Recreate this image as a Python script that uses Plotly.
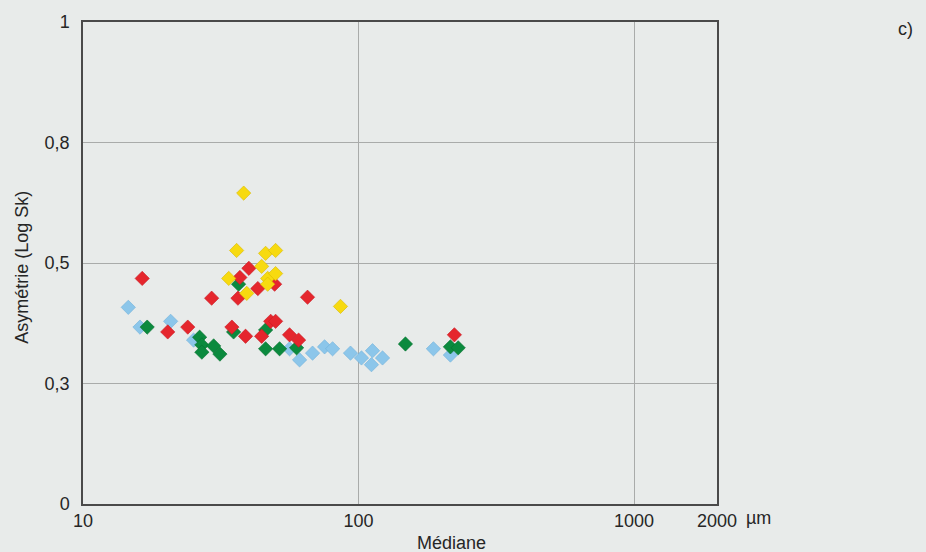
import plotly.graph_objects as go

# Médiane (µm) and asymétrie values (y in axis units 0-1)
blue_x = [14.6, 16.1, 20.8, 25.2, 56.2, 61.1, 68.1, 75.3, 80.5, 93.5, 102.5, 112.4, 111.4, 122.2, 187, 215.5]
blue_y = [0.408, 0.367, 0.379, 0.340, 0.322, 0.299, 0.313, 0.326, 0.322, 0.313, 0.303, 0.318, 0.289, 0.303, 0.322, 0.309]

green_x = [36.7, 17.1, 35.2, 46.0, 26.5, 27.0, 27.0, 29.8, 31.4, 46.0, 51.7, 59.6, 148, 215.5, 230]
green_y = [0.456, 0.367, 0.357, 0.361, 0.346, 0.330, 0.315, 0.328, 0.311, 0.322, 0.322, 0.324, 0.332, 0.326, 0.324]

red_x = [40.0, 16.4, 37.1, 49.6, 43.1, 29.3, 36.5, 65.3, 24.0, 20.3, 34.7, 48.0, 50.0, 38.9, 44.5, 56.2, 60.6, 222.8]
red_y = [0.489, 0.468, 0.470, 0.456, 0.447, 0.427, 0.427, 0.429, 0.367, 0.357, 0.367, 0.379, 0.379, 0.348, 0.348, 0.351, 0.340, 0.351]

yellow_x = [38.3, 36.1, 46.0, 50.0, 44.5, 33.8, 46.8, 50.0, 46.8, 39.3, 86.0]
yellow_y = [0.645, 0.526, 0.520, 0.526, 0.493, 0.468, 0.468, 0.478, 0.456, 0.437, 0.410]

y_tickvals = [0, 0.25, 0.5, 0.75, 1]
y_ticktext = ["0", "0,3", "0,5", "0,8", "1"]
x_tickvals = [10, 100, 1000, 2000]
x_ticktext = ["10", "100", "1000", "2000"]

BG = "#e8ebea"
FONT = "Liberation Sans, Arial, sans-serif"
TXT = "#262626"
FS = 18

fig = go.Figure()
series = [
    (blue_x, blue_y, "#8cc6ea", "#6fb0da"),
    (green_x, green_y, "#0b8a3e", "#06702f"),
    (red_x, red_y, "#e5262d", "#c81a22"),
    (yellow_x, yellow_y, "#f7da10", "#d8b800"),
]
for xs, ys, col, lc in series:
    fig.add_trace(go.Scatter(
        x=xs, y=ys, mode="markers",
        marker=dict(symbol="diamond", size=11, color=col, line=dict(width=0.6, color=lc)),
        showlegend=False, hoverinfo="skip"))

fig.update_layout(
    width=926, height=552,
    margin=dict(l=83, r=209, t=19, b=48),
    paper_bgcolor=BG, plot_bgcolor=BG,
    font=dict(family=FONT, size=FS, color=TXT),
    xaxis=dict(type="log", range=[1, 3.30103], tickvals=x_tickvals, ticktext=x_ticktext,
               showgrid=True, gridcolor="#a9abaa", gridwidth=1, zeroline=False,
               showline=True, linecolor="#4a4a4a", linewidth=1.5, mirror=True,
               ticks="", ticklabelstandoff=0, tickfont=dict(size=FS, color=TXT)),
    yaxis=dict(range=[0, 1], tickvals=y_tickvals, ticktext=y_ticktext,
               showgrid=True, gridcolor="#a9abaa", gridwidth=1, zeroline=False,
               showline=True, linecolor="#4a4a4a", linewidth=1.5, mirror=True,
               ticks="", ticklabelstandoff=8, tickfont=dict(size=FS, color=TXT)),
)

fig.add_annotation(text="Asymétrie (Log Sk)", xref="paper", yref="paper",
                   x=-0.0962, y=0.49, xanchor="center", yanchor="middle",
                   textangle=-90, showarrow=False, font=dict(size=FS, color=TXT))
fig.add_annotation(text="Médiane", xref="paper", yref="paper",
                   x=0.582, y=-0.080, xanchor="center", yanchor="middle",
                   showarrow=False, font=dict(size=FS, color=TXT))
fig.add_annotation(text="µm", xref="paper", yref="paper",
                   x=1.0 + (744 - 717) / 634, y=-0.029, xanchor="left", yanchor="middle",
                   showarrow=False, font=dict(size=FS, color=TXT))
fig.add_annotation(text="c)", xref="paper", yref="paper",
                   x=1.298, y=0.986, xanchor="center", yanchor="middle",
                   showarrow=False, font=dict(size=FS, color=TXT))

fig.write_html("out.html")
